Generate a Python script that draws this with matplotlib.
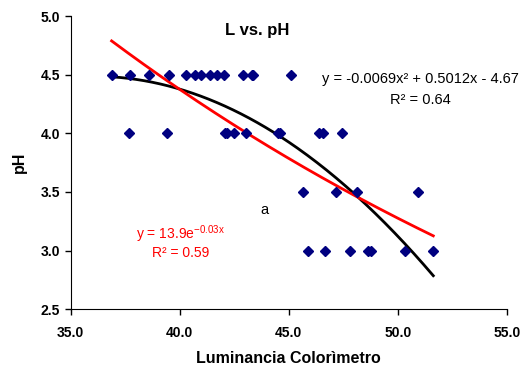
import numpy as np
import matplotlib
matplotlib.use('Agg')
import matplotlib.pyplot as plt

plt.rcParams['font.family'] = ['Liberation Sans', 'DejaVu Sans']
plt.rcParams['mathtext.fontset'] = 'custom'
plt.rcParams['mathtext.rm'] = 'Liberation Sans'
plt.rcParams['mathtext.it'] = 'Liberation Sans'

# luminancia vs pH
lum = [36.88, 37.72, 38.61, 39.52, 40.28, 40.70, 40.96, 41.39, 41.70, 42.03, 42.89, 43.30, 43.38, 45.09,
       37.67, 39.43, 42.08, 42.16, 42.49, 43.03, 44.50, 44.60, 46.40, 46.56, 47.46,
       45.64, 47.16, 48.15, 50.94,
       45.90, 46.67, 47.81, 48.65, 48.76, 50.33, 51.63]
ph = [4.5] * 14 + [4.0] * 11 + [3.5] * 4 + [3.0] * 7

# coeficientes de la tendencia exponencial (Excel)
exp_coef = [13.9, -0.0289]

lum = np.array(lum)
ph = np.array(ph)

fig = plt.figure(figsize=(5.23, 3.68), dpi=100)
ax = fig.add_axes([0.135, 0.1595, 0.834, 0.797])

ax.plot(lum, ph, 'D', color='#000080', markersize=5, zorder=3)

# lineas de tendencia
xs = np.linspace(lum.min(), lum.max(), 200)
quad = np.polyfit(lum, ph, 2)
ax.plot(xs, np.polyval(quad, xs), color='black', lw=2, zorder=2)
ax.plot(xs, exp_coef[0] * np.exp(exp_coef[1] * xs), color='red', lw=2, zorder=2)

ax.set_xlim(35, 55)
ax.set_ylim(2.5, 5.0)
ax.set_xticks([35, 40, 45, 50, 55])
ax.set_yticks([2.5, 3.0, 3.5, 4.0, 4.5, 5.0])
ax.xaxis.set_major_formatter(plt.FormatStrFormatter('%.1f'))
ax.yaxis.set_major_formatter(plt.FormatStrFormatter('%.1f'))
ax.tick_params(direction='out', length=4, labelsize=10, width=1)
for lbl in ax.get_xticklabels() + ax.get_yticklabels():
    lbl.set_fontweight('bold')
ax.tick_params(axis='x', pad=8)
ax.spines['top'].set_visible(False)
ax.spines['right'].set_visible(False)

ax.set_xlabel('Luminancia Colorìmetro', fontsize=11.5, fontweight='bold', labelpad=8)
ax.set_ylabel('pH', fontsize=11.5, fontweight='bold', labelpad=10)

ax.text(43.55, 4.875, 'L vs. pH', ha='center', va='center', fontsize=12, fontweight='bold')
ax.text(51.02, 4.46, 'y = -0.0069x² + 0.5012x - 4.67', ha='center', va='center', fontsize=10.5)
ax.text(51.02, 4.28, 'R² = 0.64', ha='center', va='center', fontsize=10.5)
ax.text(40.06, 3.14, r'y = 13.9e$\mathregular{^{-0.03x}}$', color='red', ha='center', va='center', fontsize=10)
ax.text(40.06, 2.98, 'R² = 0.59', color='red', ha='center', va='center', fontsize=10)
ax.text(43.9, 3.35, 'a', ha='center', va='center', fontsize=10.5)

fig.savefig('out.png', dpi=100, facecolor='white')
